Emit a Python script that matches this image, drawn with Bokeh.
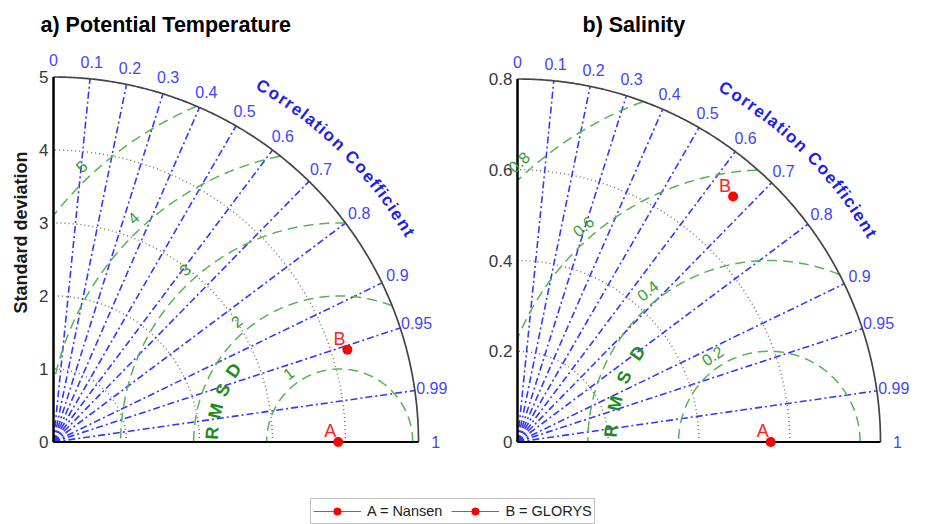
import numpy as np
from bokeh.plotting import figure
from bokeh.layouts import column, row
from bokeh.models import ColumnDataSource, Legend, LegendItem, Range1d
from bokeh.core.properties import value
from bokeh.embed import file_html
from bokeh.resources import INLINE

# ---------------- data ----------------
titles = ["a) Potential Temperature", "b) Salinity"]
model_names = ["A", "B"]
legend_labels = ["A = Nansen", "B = GLORYS"]
corr_ticks = [0, 0.1, 0.2, 0.3, 0.4, 0.5, 0.6, 0.7, 0.8, 0.9, 0.95, 0.99, 1]
corr_tick_labels = ["0", "0.1", "0.2", "0.3", "0.4", "0.5", "0.6", "0.7", "0.8",
                    "0.9", "0.95", "0.99", "1"]

temp_std_max = 5
temp_std_ticks = [0, 1, 2, 3, 4, 5]
temp_std_tick_labels = ["0", "1", "2", "3", "4", "5"]
temp_ref_std = 3.92
temp_rmsd_levels = [1, 2, 3, 4, 5]
temp_rmsd_labels = ["1", "2", "3", "4", "5"]
temp_model_std = [3.90, 4.22]
temp_model_corr = [1.0, 0.954]

sal_std_max = 0.8
sal_std_ticks = [0, 0.2, 0.4, 0.6, 0.8]
sal_std_tick_labels = ["0", "0.2", "0.4", "0.6", "0.8"]
sal_ref_std = 0.555
sal_rmsd_levels = [0.2, 0.4, 0.6, 0.8]
sal_rmsd_labels = ["0.2", "0.4", "0.6", "0.8"]
sal_model_std = [0.558, 0.72]
sal_model_corr = [1.0, 0.66]

# ---------------- style ----------------
FONT = "Liberation Sans"
PANEL_W, PANEL_H = 468, 494
BLUE_LINE = "#3636ff"
BLUE_TXT = "#4444ff"
BLUE_TITLE = "#1e1eee"
GREEN_LINE = "#55b455"
GREEN_TXT = "#2f9f2f"
GREEN_BOLD = "#1c8c1c"
GRAY_DOT = "#707070"
TICK_TXT = "#383838"

# Arial-bold advance widths for curved label
ADV = {"C": 722, "o": 611, "r": 389, "e": 556, "l": 278, "a": 556, "t": 333,
       "i": 278, "n": 611, " ": 278, "f": 333, "c": 556}


def make_panel(title, title_px, std_max, std_ticks, std_tick_labels, ref_std,
               rmsd_levels, rmsd_labels, rmsd_label_k, rmsd_word_r,
               m_std, m_corr, origin_px, radius_px, ylabel=None):
    ox, oy = origin_px
    s = radius_px / std_max
    p = figure(width=PANEL_W, height=PANEL_H,
               x_range=Range1d(-ox / s, (PANEL_W - ox) / s),
               y_range=Range1d(-(PANEL_H - oy) / s, oy / s),
               x_axis_type=None, y_axis_type=None, toolbar_location=None,
               output_backend="svg", min_border=0, outline_line_color=None)
    p.background_fill_color = "white"

    def px(xp, yp):
        return (xp - ox) / s, (oy - yp) / s

    t = np.linspace(0, np.pi / 2, 300)
    # std dotted arcs
    for r in std_ticks[1:-1]:
        p.line(r * np.cos(t), r * np.sin(t), line_color=GRAY_DOT,
               line_dash="1 3", line_width=1.4)
    # correlation rays
    xs, ys = [], []
    for c in corr_ticks[1:-1]:
        a = np.arccos(c)
        xs.append([0, std_max * np.cos(a)])
        ys.append([0, std_max * np.sin(a)])
    p.multi_line(xs, ys, line_color=BLUE_LINE, line_dash="7 3 2 3",
                 line_width=1.6)
    # rmsd circles
    th = np.linspace(0, np.pi, 800)
    for r in rmsd_levels:
        x = ref_std + r * np.cos(th)
        y = r * np.sin(th)
        bad = (x < 0) | (x * x + y * y > std_max ** 2 * 1.0001)
        x = np.where(bad, np.nan, x)
        y = np.where(bad, np.nan, y)
        p.line(x, y, line_color=GREEN_LINE, line_dash="10 6", line_width=1.5)
    # axes and outer arc
    p.line(std_max * np.cos(t), std_max * np.sin(t), line_color="#444444",
           line_width=1.7)
    p.line([0, 0], [0, std_max], line_color="black", line_width=2.5)
    p.line([0, std_max], [0, 0], line_color="black", line_width=2)

    # std tick labels
    p.text(x=[0] * len(std_ticks), y=std_ticks, text=std_tick_labels,
           text_align="right", text_baseline="middle", x_offset=-5,
           text_font=value(FONT), text_font_size="17px", text_color=TICK_TXT)
    # correlation tick labels
    ang = np.arccos(corr_ticks)
    rl = std_max * 1.047
    p.text(x=rl * np.cos(ang), y=rl * np.sin(ang), text=corr_tick_labels,
           text_align="center", text_baseline="middle",
           text_font=value(FONT), text_font_size="16px", text_color=BLUE_TXT)
    # curved "Correlation Coefficient"
    word = "Correlation Coefficient"
    adv = np.array([ADV[ch] for ch in word], dtype=float)
    cum = np.cumsum(adv) - adv / 2
    frac = (cum - cum[0]) / (cum[-1] - cum[0])
    a0, a1 = np.radians(59.5), np.radians(30.5)
    aa = a0 + (a1 - a0) * frac
    rw = std_max * 1.13
    p.text(x=rw * np.cos(aa), y=rw * np.sin(aa), text=list(word),
           angle=aa - np.pi / 2, text_align="center", text_baseline="middle",
           text_font=value(FONT), text_font_size="17px",
           text_font_style="bold", text_color=BLUE_TITLE)
    # rmsd labels along line x + y = k
    k = rmsd_label_k
    lx, ly, la = [], [], []
    for r in rmsd_levels:
        rho = r + 0.035 * std_max
        sv = (k - ref_std) / rho
        thl = np.radians(135) - np.arcsin(sv / np.sqrt(2))
        lx.append(ref_std + rho * np.cos(thl))
        ly.append(rho * np.sin(thl))
        la.append(thl - np.pi / 2)
    p.text(x=lx, y=ly, text=rmsd_labels, angle=la, text_align="center",
           text_baseline="middle", text_font=value(FONT),
           text_font_size="16px", text_color=GREEN_TXT)
    # "RMSD" word
    wa = np.radians([176, 166, 156, 146])
    p.text(x=ref_std + rmsd_word_r * np.cos(wa), y=rmsd_word_r * np.sin(wa),
           text=list("RMSD"), angle=wa - np.pi / 2, text_align="center",
           text_baseline="middle", text_font=value(FONT),
           text_font_size="18px", text_font_style="bold",
           text_color=GREEN_BOLD)

    # model points
    ma = np.arccos(m_corr)
    mx = np.array(m_std) * np.cos(ma)
    my = np.array(m_std) * np.sin(ma)
    p.scatter(mx, my, size=10, fill_color="#ff0000", line_color=None)
    p.text(x=mx, y=my, text=model_names, x_offset=-8, y_offset=-11,
           text_align="center", text_baseline="middle", text_font=value(FONT),
           text_font_size="18px", text_color="#ff2020")

    # title
    tx, ty = px(*title_px)
    p.text(x=[tx], y=[ty], text=[title], text_align="left",
           text_baseline="alphabetic", text_font=value(FONT),
           text_font_size="21.5px", text_font_style="bold", text_color="black")
    if ylabel:
        yx, yy = px(20, 232)
        p.text(x=[yx], y=[yy], text=[ylabel], angle=np.pi / 2,
               text_align="center", text_baseline="middle",
               text_font=value(FONT), text_font_size="18px",
               text_font_style="bold", text_color="#1a1a1a")
    return p


pa = make_panel(titles[0], (40, 24.5), temp_std_max, temp_std_ticks,
                temp_std_tick_labels, temp_ref_std, temp_rmsd_levels,
                temp_rmsd_labels, 4.16, 1.75, temp_model_std, temp_model_corr,
                (53, 441.5), 365, ylabel="Standard deviation")
pb = make_panel(titles[1], (114, 24.5), sal_std_max, sal_std_ticks,
                sal_std_tick_labels, sal_ref_std, sal_rmsd_levels,
                sal_rmsd_labels, 0.62, 0.35, sal_model_std, sal_model_corr,
                (49, 441.5), 363)

# legend strip
pl = figure(width=936, height=30, x_range=Range1d(0, 1), y_range=Range1d(0, 1),
            x_axis_type=None, y_axis_type=None, toolbar_location=None,
            output_backend="svg", min_border=0, outline_line_color=None)
items = []
for lab in legend_labels:
    ln = pl.line([np.nan, np.nan], [np.nan, np.nan], line_color="#ff3030",
                 line_width=1.2)
    sc = pl.scatter([np.nan], [np.nan], size=10, fill_color="#ff0000",
                    line_color=None)
    items.append(LegendItem(label=lab, renderers=[ln, sc]))
leg = Legend(items=items, orientation="horizontal", location=(310, 0),
             glyph_width=48, glyph_height=20, label_height=20,
             label_standoff=6, spacing=9, padding=2, margin=0,
             border_line_color="#888888", border_line_width=1,
             background_fill_color="white", background_fill_alpha=1,
             label_text_font=FONT, label_text_font_size="14.5px",
             label_text_color="#222222")
pl.add_layout(leg)

layout = column(row(pa, pb), pl)
open("out.html", "w").write(file_html(layout, INLINE))
